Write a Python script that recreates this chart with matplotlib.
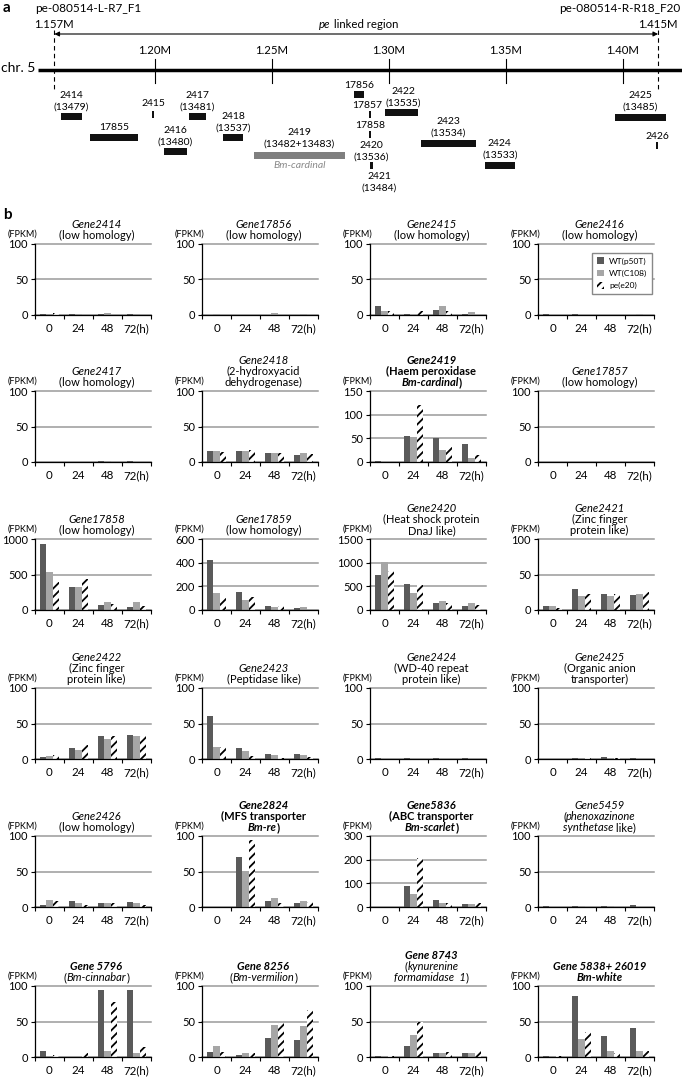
import numpy as np
import matplotlib
matplotlib.use('Agg')
import matplotlib.pyplot as plt
from matplotlib.transforms import offset_copy

plt.rcParams['font.family'] = ['Lato', 'DejaVu Sans']
plt.rcParams['hatch.linewidth'] = 1.3

# ---------------------------------------------------------------
# panel a: genes in the pe linked region (positions in Mb)
genes = ['2414', '17855', '2415', '2416', '2417', '2418', '2419', '17856',
         '17857', '17858', '2420', '2422', '2423', '2424', '2425', '2426']
gene_alias = ['(13479)', '', '', '(13480)', '(13481)', '(13537)', '(13482+13483)', '',
              '', '', '(13536)', '(13535)', '(13534)', '(13533)', '(13485)', '']
gene_start = [1.1598, 1.1724, 1.1989, 1.2038, 1.2145, 1.2291, 1.2421, 1.2850,
              1.2915, 1.2915, 1.2917, 1.2983, 1.3135, 1.3410, 1.3965, 1.4141]
gene_end = [1.1688, 1.1926, 1.1997, 1.2135, 1.2218, 1.2375, 1.2814, 1.2893,
            1.2922, 1.2922, 1.2930, 1.3124, 1.3371, 1.3537, 1.4184, 1.4150]
marker_names = ['pe-080514-L-R7_F1', 'pe-080514-R-R18_F20']
marker_pos = [1.157, 1.415]
mb_ticks = [1.20, 1.25, 1.30, 1.35, 1.40]

# ---------------------------------------------------------------
# panel b: FPKM at 0, 24, 48, 72 h
hours = ['0', '24', '48', '72(h)']
series = ['WT(p50T)', 'WT(C108)', 'pe(e20)']
ymax = [100, 100, 100, 100, 100, 100, 150, 100, 1000, 600, 1500, 100,
        100, 100, 100, 100, 100, 100, 300, 100, 100, 100, 100, 100]
ystep = [50, 50, 50, 50, 50, 50, 50, 50, 500, 200, 500, 50,
         50, 50, 50, 50, 50, 50, 100, 50, 50, 50, 50, 50]
p50t = [[1, 1, 1, 1], [0.5, 0.5, 0.5, 0.5], [12, 1.5, 7, 2], [1, 1, 0.5, 0.5],
        [0.3, 0.3, 1.5, 1], [16, 16, 13, 10], [1.5, 55, 50, 38], [0.5, 0.5, 0.5, 0.5],
        [930, 330, 70, 40], [420, 150, 35, 15], [730, 550, 140, 85], [6, 30, 23, 21],
        [3, 15, 33, 34], [61, 16, 7, 7], [0.8, 0.8, 0.8, 0.8], [0.5, 2, 3, 2],
        [3, 9, 6, 7], [0.5, 71, 9, 6], [2, 90, 28, 13], [1, 2, 2, 3],
        [8, 0.5, 94, 95], [7, 3, 27, 24], [1, 16, 5, 5], [1, 86, 30, 41]]
c108 = [[1, 1, 3, 1], [1.5, 0.5, 3, 1], [6, 0.3, 12, 4.5], [0.5, 0.5, 0.5, 1],
        [0.3, 0.3, 1, 0.5], [16, 15, 12, 13], [0.5, 53, 25, 8], [0.5, 0.5, 0.5, 0.5],
        [540, 320, 115, 115], [140, 85, 25, 25], [1010, 360, 190, 150], [5, 20, 20, 22],
        [4, 13, 28, 33], [17, 11, 6, 5], [0.5, 0.5, 0.5, 0.5], [0.5, 1, 1, 0.5],
        [10, 6, 5, 5], [0.3, 51, 13, 8], [1, 55, 15, 13], [0.5, 1, 1, 0.5],
        [1, 0.5, 9, 5], [15, 6, 45, 43], [2, 31, 5, 5], [1, 25, 9, 8]]
pe = [[3, 0.5, 0.5, 0.5], [0.3, 0.3, 0.3, 0.3], [5, 5, 6, 0.3], [0.3, 0.3, 0.3, 0.3],
      [0.2, 0.2, 0.2, 0.2], [14, 17, 13, 11], [0.3, 120, 31, 14], [0.3, 0.3, 0.3, 0.3],
      [395, 430, 90, 60], [105, 110, 30, 0], [830, 520, 140, 100], [3, 23, 22, 26],
      [6, 20, 32, 32], [17, 4, 2, 3], [0.3, 0.3, 0.3, 0.3], [0.3, 2, 1.5, 0.3],
      [9, 3, 5, 3], [0.2, 95, 5, 7], [0.5, 205, 17, 15], [0.3, 0.3, 0.3, 0.5],
      [3, 6, 78, 14], [7, 6, 48, 66], [2, 50, 7, 8], [2, 35, 5, 8]]

# title lines: (text, style) with n=normal, i=italic, b=bold, bi=bold italic
titles = [
    [[('Gene2414', 'i')], [('(low homology)', 'n')]],
    [[('Gene17856', 'i')], [('(low homology)', 'n')]],
    [[('Gene2415', 'i')], [('(low homology)', 'n')]],
    [[('Gene2416', 'i')], [('(low homology)', 'n')]],
    [[('Gene2417', 'i')], [('(low homology)', 'n')]],
    [[('Gene2418', 'i')], [('(2-hydroxyacid', 'n')], [('dehydrogenase)', 'n')]],
    [[('Gene2419', 'bi')], [('(Haem peroxidase', 'b')], [('Bm-cardinal', 'bi'), (')', 'b')]],
    [[('Gene17857', 'i')], [('(low homology)', 'n')]],
    [[('Gene17858', 'i')], [('(low homology)', 'n')]],
    [[('Gene17859', 'i')], [('(low homology)', 'n')]],
    [[('Gene2420', 'i')], [('(Heat shock protein', 'n')], [('DnaJ like)', 'n')]],
    [[('Gene2421', 'i')], [('(Zinc finger', 'n')], [('protein like)', 'n')]],
    [[('Gene2422', 'i')], [('(Zinc finger', 'n')], [('protein like)', 'n')]],
    [[('Gene2423', 'i')], [('(Peptidase like)', 'n')]],
    [[('Gene2424', 'i')], [('(WD-40 repeat', 'n')], [('protein like)', 'n')]],
    [[('Gene2425', 'i')], [('(Organic anion', 'n')], [('transporter)', 'n')]],
    [[('Gene2426', 'i')], [('(low homology)', 'n')]],
    [[('Gene2824', 'bi')], [('(MFS transporter', 'b')], [('Bm-re', 'bi'), (')', 'b')]],
    [[('Gene5836', 'bi')], [('(ABC transporter', 'b')], [('Bm-scarlet', 'bi'), (')', 'b')]],
    [[('Gene5459', 'i')], [('(', 'n'), ('phenoxazinone', 'i')], [('synthetase', 'i'), (' like)', 'n')]],
    [[('Gene 5796', 'bi')], [('(', 'n'), ('Bm-cinnabar', 'i'), (')', 'n')]],
    [[('Gene 8256', 'bi')], [('(', 'n'), ('Bm-vermilion', 'i'), (')', 'n')]],
    [[('Gene 8743', 'bi')], [('(', 'n'), ('kynurenine', 'i')], [('formamidase  1', 'i'), (')', 'n')]],
    [[('Gene 5838+ 26019', 'bi')], [('Bm-white', 'bi')]],
]

W, H = 682, 1078
fig = plt.figure(figsize=(W / 100, H / 100), dpi=100)
renderer = fig.canvas.get_renderer()


def style_kw(st):
    return dict(style='italic' if 'i' in st else 'normal',
                weight='bold' if 'b' in st else 'normal')


def mixed_text(ax, x, y, segs, transform, size, color='black', dy=0):
    # one centred line made of pieces with different font styles
    widths = []
    for s, st in segs:
        t = ax.text(0, 0, s, fontsize=size, **style_kw(st))
        widths.append(t.get_window_extent(renderer).width)
        t.remove()
    off = -sum(widths) / 2
    for (s, st), w in zip(segs, widths):
        tr = offset_copy(transform, fig=fig, x=off, y=dy, units='dots')
        ax.text(x, y, s, transform=tr, fontsize=size, ha='left', va='baseline',
                color=color, **style_kw(st))
        off += w


# ---------------------------------------------------------------
# panel a
axa = fig.add_axes([0, 1 - 215 / H, 1, 215 / H])
px = 2340.0  # pixels per Mb
axa.set_xlim(1.20 - 155 / px, 1.20 + 527 / px)
axa.set_ylim(215, 0)
axa.axis('off')

fig.text(3 / W, 1 - 8 / H, 'a', fontsize=11, weight='bold', va='center')
fig.text(3 / W, 1 - 215 / H, 'b', fontsize=11, weight='bold', va='center')

axa.plot([1.150, 1.20 + 527 / px], [70, 70], color='black', lw=2.5, solid_capstyle='butt')
axa.text(1.149, 68, 'chr. 5', fontsize=10, ha='right', va='center')
for m in mb_ticks:
    axa.plot([m, m], [59, 83], color='black', lw=0.8)
    axa.text(m, 50, f'{m:.2f}M', fontsize=8.2, ha='center', va='center')
for m in marker_pos:
    axa.plot([m, m], [30, 92], color='black', lw=0.8, ls=(0, (4, 3)))
    axa.text(m, 25, f'{m:.3f}M', fontsize=8.2, ha='center', va='center')
axa.text(1.157 - 19 / px, 8, marker_names[0], fontsize=8.5, ha='left', va='center')
axa.text(1.20 + 525 / px, 8, marker_names[1], fontsize=8.5, ha='right', va='center')
axa.annotate('', xy=(marker_pos[0], 34), xytext=(marker_pos[1], 34),
             arrowprops=dict(arrowstyle='<|-|>', color='black', lw=0.8,
                             mutation_scale=7, shrinkA=0, shrinkB=0))
mixed_text(axa, (marker_pos[0] + marker_pos[1]) / 2 + 0.001, 25,
           [('pe', 'i'), (' linked region', 'n')], axa.transData, 8.2, dy=-3)

# gene track rows (pixel y from top) and label rows
track_y = [116, 137.5, 114, 151.5, 116, 137.5, 155.3, 94.5,
           114.5, 134, 165.5, 112, 143, 165, 117, 145]
label_y = [95, 127.7, 104, 130.7, 95, 116.7, 132.7, 85,
           105, 125, 145, 91, 121.7, 143.3, 95, 136.7]
label_dx = [0, 0, 0, 0, 0, 0, 0, 0, -0.0012, 0, 0, 0.0006, 0, 0, 0, 0]
gstart = np.array(gene_start)
glen = np.array(gene_end) - gstart
gcol = ['#7f7f7f' if g == '2419' else '#111111' for g in genes]
axa.barh(track_y, glen, left=gstart, height=7, color=gcol)
for g, al, s, e, ly, dx in zip(genes, gene_alias, gene_start, gene_end, label_y, label_dx):
    xc = (s + e) / 2 + dx
    axa.text(xc, ly, g, fontsize=7.5, ha='center', va='center')
    if al:
        axa.text(xc, ly + 11.7, al, fontsize=7.5, ha='center', va='center')
axa.text(1.2957, 176.7, '2421', fontsize=7.5, ha='center', va='center')
axa.text(1.2957, 188.4, '(13484)', fontsize=7.5, ha='center', va='center')
axa.text((gene_start[6] + gene_end[6]) / 2, 166, 'Bm-cardinal', fontsize=7.5,
         style='italic', color='#8a8a8a', ha='center', va='center')

# ---------------------------------------------------------------
# panel b
col_left = [35, 202, 370, 538]
row_top = [244, 391, 539, 688, 836, 986]
aw, ah = 116, 71
x = np.arange(4)
bw = 0.21

for i in range(24):
    r, c = divmod(i, 4)
    ax = fig.add_axes([col_left[c] / W, 1 - (row_top[r] + ah) / H, aw / W, ah / H])
    ax.bar(x - bw, p50t[i], bw, color='#5a5a5a', label=series[0])
    ax.bar(x, c108[i], bw, color='#a6a6a6', label=series[1])
    ax.bar(x + bw, pe[i], bw, facecolor='white', edgecolor='black', hatch='////',
           lw=0, label=series[2])
    ax.set_xlim(-0.5, 3.5)
    ax.set_ylim(0, ymax[i])
    ax.set_yticks(np.arange(0, ymax[i] + 1, ystep[i]))
    ax.yaxis.grid(True, color='#9a9a9a', lw=1.1, clip_on=False)
    ax.set_axisbelow(True)
    for sp in ['top', 'right']:
        ax.spines[sp].set_visible(False)
    ax.spines['left'].set_linewidth(0.9)
    ax.spines['bottom'].set_linewidth(0.9)
    ax.set_xticks([-0.5, 0.5, 1.5, 2.5, 3.5])
    ax.set_xticklabels([])
    ax.set_xticks(x, minor=True)
    ax.set_xticklabels(hours, minor=True)
    ax.tick_params(axis='x', which='major', length=3, width=0.8)
    ax.tick_params(axis='x', which='minor', length=0, pad=6, labelsize=8.3)
    ax.tick_params(axis='y', length=3, width=0.8, pad=2, labelsize=8)
    ax.text(0, 1, '(FPKM)', transform=offset_copy(ax.transAxes, fig=fig, x=2, y=10, units='dots'),
            fontsize=6.5, ha='right', va='center')
    lines = titles[i]
    n = len(lines)
    for k, segs in enumerate(lines):
        dy = 5 + (n - 1 - k) * 10.8
        mixed_text(ax, 0.53, 1, segs, ax.transAxes, 8, dy=dy)
    if i == 3:
        ax.legend(loc='upper right', bbox_to_anchor=(1.0, 0.91), fontsize=6,
                  frameon=True, fancybox=False, edgecolor='#888888', framealpha=1,
                  handlelength=0.9, handleheight=0.9, handletextpad=0.6,
                  labelspacing=0.6, borderpad=0.5, borderaxespad=0.3)

fig.savefig('out.png', dpi=100, facecolor='white')
